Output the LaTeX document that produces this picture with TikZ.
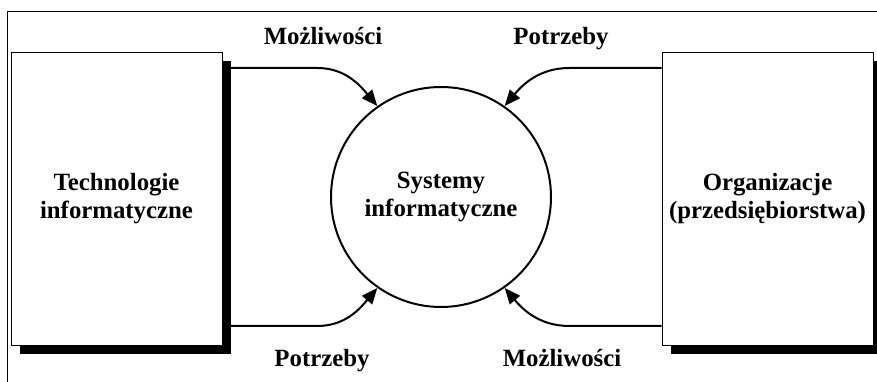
\documentclass[tikz,border=0pt]{standalone}
\usepackage{fontspec}
\setmainfont{Liberation Serif}
\usetikzlibrary{positioning}
\usetikzlibrary{arrows.meta}

\begin{document}
\begin{tikzpicture}[x=1pt, y=1pt,
		every node/.style={font=\bfseries\fontsize{24.8}{28}\selectfont, align=center},
		box/.style={draw, fill=white, line width=0.8pt, minimum width=211pt, minimum height=293pt, inner sep=0pt},
		shadowbox/.style={fill=black, minimum width=211pt, minimum height=293pt, inner sep=0pt},
		flow/.style={line width=2pt, -{Triangle[length=16pt,width=13pt]}}
	]
	\useasboundingbox (0,0) rectangle (877,382);
	\draw[line width=0.8pt] (7,0) -- (7,371) -- (877,371);

	\node[circle, draw, line width=2pt, minimum size=220pt, inner sep=0pt] (sys) at (441,185) {Systemy\\informatyczne};

	\node[shadowbox] (techshadow) at (125.5,174.5) {};
	\node[box] (tech) at (116.5,183.5) {Technologie\\informatyczne};
	\node[shadowbox] (orgshadow) at (776.5,174.5) {};
	\node[box] (org) at (767.5,183.5) {Organizacje\\(przedsiębiorstwa)};

	\coordinate (top) at (0,314);
	\coordinate (bot) at (0,56);

	\draw[flow] (techshadow.east |- top) -- ++(86,0) to[out=0, in=130] (sys.125);
	\draw[flow] (techshadow.east |- bot) -- ++(86,0) to[out=0, in=-130] (sys.235);
	\draw[flow] (org.west |- top) -- ++(-92,0) to[out=180, in=50] (sys.55);
	\draw[flow] (org.west |- bot) -- ++(-92,0) to[out=180, in=-50] (sys.305);

	\node[anchor=base] (mozl1) at (323,337) {Możliwości};
	\node[anchor=base] (potrz1) at (561,337) {Potrzeby};
	\node[anchor=base] (potrz2) at (322,15) {Potrzeby};
	\node[anchor=base] (mozl2) at (562,15) {Możliwości};
\end{tikzpicture}
\end{document}
